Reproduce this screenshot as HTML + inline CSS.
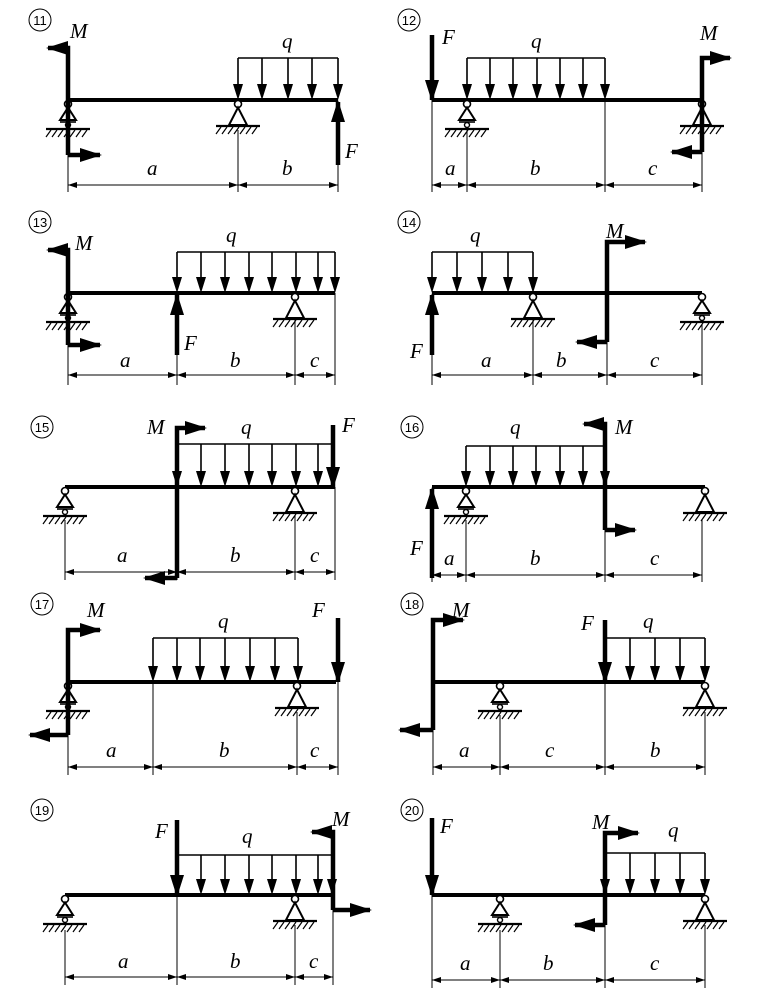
<!DOCTYPE html>
<html><head><meta charset="utf-8"><style>
html,body{margin:0;padding:0;background:#fff}
svg{display:block}
text{font-family:"Liberation Serif",serif;font-style:italic;font-size:21px;fill:#000}
.n{font-family:"Liberation Sans",sans-serif;font-style:normal;font-size:13px;text-anchor:middle}
.bm{stroke:#000;stroke-width:4;fill:none}
.th{stroke:#000;stroke-width:4.5;fill:none}
.q{stroke:#000;stroke-width:1.6;fill:none}
.d{stroke:#000;stroke-width:1;fill:none}
</style></head><body>
<svg width="760" height="999" viewBox="0 0 760 999" xmlns="http://www.w3.org/2000/svg">
<defs>
<path id="qh" d="M-5,-16L5,-16L0,0z"/>
<marker id="ta" markerUnits="userSpaceOnUse" viewBox="0 0 22 14" refX="20" refY="7" markerWidth="22" markerHeight="14" orient="auto"><path d="M0,0L22,7L0,14z"/></marker>
<marker id="da" markerUnits="userSpaceOnUse" viewBox="0 0 9 6" refX="9" refY="3" markerWidth="9" markerHeight="6" orient="auto-start-reverse"><path d="M0,0L9,3L0,6z"/></marker>
<g id="pin" fill="none" stroke="#000">
<circle cx="0" cy="4" r="3.5" fill="#fff" stroke-width="1.6"/>
<path d="M0,7.5L-9,25H9Z" stroke-width="2"/>
<line x1="-22" y1="26" x2="22" y2="26" stroke-width="2.2"/>
<path d="M-17,27l-5,7M-11,27l-5,7M-5,27l-5,7M1,27l-5,7M7,27l-5,7M13,27l-5,7M19,27l-5,7" stroke-width="1.2"/>
</g>
<g id="rol" fill="none" stroke="#000">
<circle cx="0" cy="4" r="3.5" fill="#fff" stroke-width="1.6"/>
<path d="M0,7.5L-8,20H8Z" stroke-width="2"/>
<line x1="-8" y1="22" x2="8" y2="22" stroke-width="1.6"/>
<circle cx="0" cy="25" r="2.5" fill="#fff" stroke-width="1.4"/>
<line x1="-22" y1="29" x2="22" y2="29" stroke-width="2.2"/>
<path d="M-17,30l-5,7M-11,30l-5,7M-5,30l-5,7M1,30l-5,7M7,30l-5,7M13,30l-5,7M19,30l-5,7" stroke-width="1.2"/>
</g>
</defs>

<!-- ===== 11 ===== -->
<circle cx="40" cy="20" r="11" fill="none" stroke="#000"/><text class="n" x="40" y="25">11</text>
<line class="bm" x1="68" y1="100" x2="338" y2="100"/>
<use href="#rol" x="68" y="100"/><use href="#pin" x="238" y="100"/>
<path class="q" d="M238,58H338M238,58V90M262,58V90M288,58V90M312,58V90M338,58V90"/>
<use href="#qh" x="238" y="100"/><use href="#qh" x="262" y="100"/><use href="#qh" x="288" y="100"/><use href="#qh" x="312" y="100"/><use href="#qh" x="338" y="100"/>
<path class="th" d="M68,155V48H48" marker-end="url(#ta)"/><path class="th" d="M68,155H100" marker-end="url(#ta)"/>
<path class="th" d="M338,165V102" marker-end="url(#ta)"/>
<path class="d" d="M68,100V192M238,130V192M338,165V192"/>
<path class="d" marker-start="url(#da)" marker-end="url(#da)" d="M68,185H238"/><path class="d" marker-start="url(#da)" marker-end="url(#da)" d="M238,185H338"/>
<text x="70" y="38">M</text><text x="282" y="48">q</text><text x="345" y="158">F</text><text x="147" y="175">a</text><text x="282" y="175">b</text>

<!-- ===== 12 ===== -->
<circle cx="409" cy="20" r="11" fill="none" stroke="#000"/><text class="n" x="409" y="25">12</text>
<line class="bm" x1="432" y1="100" x2="702" y2="100"/>
<use href="#rol" x="467" y="100"/><use href="#pin" x="702" y="100"/>
<path class="q" d="M467,58H605M467,58V90M490,58V90M513,58V90M537,58V90M560,58V90M583,58V90M605,58V90"/>
<use href="#qh" x="467" y="100"/><use href="#qh" x="490" y="100"/><use href="#qh" x="513" y="100"/><use href="#qh" x="537" y="100"/><use href="#qh" x="560" y="100"/><use href="#qh" x="583" y="100"/><use href="#qh" x="605" y="100"/>
<path class="th" d="M432,35V100" marker-end="url(#ta)"/>
<path class="th" d="M702,152V58H730" marker-end="url(#ta)"/><path class="th" d="M702,152H672" marker-end="url(#ta)"/>
<path class="d" d="M432,100V192M467,130V192M605,100V192M702,152V192"/>
<path class="d" marker-start="url(#da)" marker-end="url(#da)" d="M432,185H467"/><path class="d" marker-start="url(#da)" marker-end="url(#da)" d="M467,185H605"/><path class="d" marker-start="url(#da)" marker-end="url(#da)" d="M605,185H702"/>
<text x="442" y="44">F</text><text x="531" y="48">q</text><text x="700" y="40">M</text><text x="445" y="175">a</text><text x="530" y="175">b</text><text x="648" y="175">c</text>

<!-- ===== 13 ===== -->
<circle cx="40" cy="222" r="11" fill="none" stroke="#000"/><text class="n" x="40" y="227">13</text>
<line class="bm" x1="68" y1="293" x2="335" y2="293"/>
<use href="#rol" x="68" y="293"/><use href="#pin" x="295" y="293"/>
<path class="q" d="M177,252H335M177,252V283M201,252V283M225,252V283M249,252V283M272,252V283M296,252V283M318,252V283M335,252V283"/>
<use href="#qh" x="177" y="293"/><use href="#qh" x="201" y="293"/><use href="#qh" x="225" y="293"/><use href="#qh" x="249" y="293"/><use href="#qh" x="272" y="293"/><use href="#qh" x="296" y="293"/><use href="#qh" x="318" y="293"/><use href="#qh" x="335" y="293"/>
<path class="th" d="M68,345V250H48" marker-end="url(#ta)"/><path class="th" d="M68,345H100" marker-end="url(#ta)"/>
<path class="th" d="M177,355V295" marker-end="url(#ta)"/>
<path class="d" d="M68,293V385M177,355V385M295,320V385M335,293V385"/>
<path class="d" marker-start="url(#da)" marker-end="url(#da)" d="M68,375H177"/><path class="d" marker-start="url(#da)" marker-end="url(#da)" d="M177,375H295"/><path class="d" marker-start="url(#da)" marker-end="url(#da)" d="M295,375H335"/>
<text x="75" y="250">M</text><text x="226" y="242">q</text><text x="184" y="350">F</text><text x="120" y="367">a</text><text x="230" y="367">b</text><text x="310" y="367">c</text>

<!-- ===== 14 ===== -->
<circle cx="409" cy="222" r="11" fill="none" stroke="#000"/><text class="n" x="409" y="227">14</text>
<line class="bm" x1="432" y1="293" x2="702" y2="293"/>
<use href="#pin" x="533" y="293"/><use href="#rol" x="702" y="293"/>
<path class="q" d="M432,252H533M432,252V283M457,252V283M482,252V283M508,252V283M533,252V283"/>
<use href="#qh" x="432" y="293"/><use href="#qh" x="457" y="293"/><use href="#qh" x="482" y="293"/><use href="#qh" x="508" y="293"/><use href="#qh" x="533" y="293"/>
<path class="th" d="M432,355V295" marker-end="url(#ta)"/>
<path class="th" d="M607,342V242H645" marker-end="url(#ta)"/><path class="th" d="M607,342H577" marker-end="url(#ta)"/>
<path class="d" d="M432,355V385M533,320V385M607,342V385M702,325V385"/>
<path class="d" marker-start="url(#da)" marker-end="url(#da)" d="M432,375H533"/><path class="d" marker-start="url(#da)" marker-end="url(#da)" d="M533,375H607"/><path class="d" marker-start="url(#da)" marker-end="url(#da)" d="M607,375H702"/>
<text x="606" y="238">M</text><text x="470" y="242">q</text><text x="410" y="358">F</text><text x="481" y="367">a</text><text x="556" y="367">b</text><text x="650" y="367">c</text>

<!-- ===== 15 ===== -->
<circle cx="42" cy="427" r="11" fill="none" stroke="#000"/><text class="n" x="42" y="432">15</text>
<line class="bm" x1="65" y1="487" x2="335" y2="487"/>
<use href="#rol" x="65" y="487"/><use href="#pin" x="295" y="487"/>
<path class="q" d="M177,444H332M177,444V477M201,444V477M225,444V477M249,444V477M272,444V477M296,444V477M318,444V477"/>
<use href="#qh" x="177" y="487"/><use href="#qh" x="201" y="487"/><use href="#qh" x="225" y="487"/><use href="#qh" x="249" y="487"/><use href="#qh" x="272" y="487"/><use href="#qh" x="296" y="487"/><use href="#qh" x="318" y="487"/>
<path class="th" d="M177,578V428H205" marker-end="url(#ta)"/><path class="th" d="M177,578H145" marker-end="url(#ta)"/>
<path class="th" d="M333,425V487" marker-end="url(#ta)"/>
<path class="d" d="M65,520V580M177,578V580M295,515V580M335,487V580"/>
<path class="d" marker-start="url(#da)" marker-end="url(#da)" d="M65,572H177"/><path class="d" marker-start="url(#da)" marker-end="url(#da)" d="M177,572H295"/><path class="d" marker-start="url(#da)" marker-end="url(#da)" d="M295,572H335"/>
<text x="147" y="434">M</text><text x="241" y="434">q</text><text x="342" y="432">F</text><text x="117" y="562">a</text><text x="230" y="562">b</text><text x="310" y="562">c</text>

<!-- ===== 16 ===== -->
<circle cx="412" cy="427" r="11" fill="none" stroke="#000"/><text class="n" x="412" y="432">16</text>
<line class="bm" x1="432" y1="487" x2="705" y2="487"/>
<use href="#rol" x="466" y="487"/><use href="#pin" x="705" y="487"/>
<path class="q" d="M466,446H605M466,446V477M490,446V477M513,446V477M536,446V477M560,446V477M583,446V477"/>
<use href="#qh" x="466" y="487"/><use href="#qh" x="490" y="487"/><use href="#qh" x="513" y="487"/><use href="#qh" x="536" y="487"/><use href="#qh" x="560" y="487"/><use href="#qh" x="583" y="487"/><use href="#qh" x="605" y="487"/>
<path class="th" d="M605,530V424H584" marker-end="url(#ta)"/><path class="th" d="M605,530H635" marker-end="url(#ta)"/>
<path class="th" d="M432,578V489" marker-end="url(#ta)"/>
<path class="d" d="M432,578V582M466,520V582M605,530V582M702,520V582"/>
<path class="d" marker-start="url(#da)" marker-end="url(#da)" d="M432,575H466"/><path class="d" marker-start="url(#da)" marker-end="url(#da)" d="M466,575H605"/><path class="d" marker-start="url(#da)" marker-end="url(#da)" d="M605,575H702"/>
<text x="615" y="434">M</text><text x="510" y="434">q</text><text x="410" y="555">F</text><text x="444" y="565">a</text><text x="530" y="565">b</text><text x="650" y="565">c</text>

<!-- ===== 17 ===== -->
<circle cx="42" cy="604" r="11" fill="none" stroke="#000"/><text class="n" x="42" y="609">17</text>
<line class="bm" x1="68" y1="682" x2="336" y2="682"/>
<use href="#rol" x="68" y="682"/><use href="#pin" x="297" y="682"/>
<path class="q" d="M153,638H298M153,638V672M177,638V672M200,638V672M225,638V672M250,638V672M275,638V672M298,638V672"/>
<use href="#qh" x="153" y="682"/><use href="#qh" x="177" y="682"/><use href="#qh" x="200" y="682"/><use href="#qh" x="225" y="682"/><use href="#qh" x="250" y="682"/><use href="#qh" x="275" y="682"/><use href="#qh" x="298" y="682"/>
<path class="th" d="M68,735V630H100" marker-end="url(#ta)"/><path class="th" d="M68,735H30" marker-end="url(#ta)"/>
<path class="th" d="M338,618V682" marker-end="url(#ta)"/>
<path class="d" d="M68,735V775M153,682V775M297,712V775M338,682V775"/>
<path class="d" marker-start="url(#da)" marker-end="url(#da)" d="M68,767H153"/><path class="d" marker-start="url(#da)" marker-end="url(#da)" d="M153,767H297"/><path class="d" marker-start="url(#da)" marker-end="url(#da)" d="M297,767H338"/>
<text x="87" y="617">M</text><text x="218" y="628">q</text><text x="312" y="617">F</text><text x="106" y="757">a</text><text x="219" y="757">b</text><text x="310" y="757">c</text>

<!-- ===== 18 ===== -->
<circle cx="412" cy="604" r="11" fill="none" stroke="#000"/><text class="n" x="412" y="609">18</text>
<line class="bm" x1="433" y1="682" x2="705" y2="682"/>
<use href="#rol" x="500" y="682"/><use href="#pin" x="705" y="682"/>
<path class="q" d="M605,638H705M630,638V672M655,638V672M680,638V672M705,638V672"/>
<use href="#qh" x="630" y="682"/><use href="#qh" x="655" y="682"/><use href="#qh" x="680" y="682"/><use href="#qh" x="705" y="682"/>
<path class="th" d="M433,730V620H463" marker-end="url(#ta)"/><path class="th" d="M433,730H400" marker-end="url(#ta)"/>
<path class="th" d="M605,620V682" marker-end="url(#ta)"/>
<path class="d" d="M433,730V775M500,715V775M605,682V775M705,712V775"/>
<path class="d" marker-start="url(#da)" marker-end="url(#da)" d="M433,767H500"/><path class="d" marker-start="url(#da)" marker-end="url(#da)" d="M500,767H605"/><path class="d" marker-start="url(#da)" marker-end="url(#da)" d="M605,767H705"/>
<text x="452" y="617">M</text><text x="643" y="628">q</text><text x="581" y="630">F</text><text x="459" y="757">a</text><text x="545" y="757">c</text><text x="650" y="757">b</text>

<!-- ===== 19 ===== -->
<circle cx="42" cy="810" r="11" fill="none" stroke="#000"/><text class="n" x="42" y="815">19</text>
<line class="bm" x1="65" y1="895" x2="333" y2="895"/>
<use href="#rol" x="65" y="895"/><use href="#pin" x="295" y="895"/>
<path class="q" d="M177,855H332M201,855V885M225,855V885M249,855V885M272,855V885M296,855V885M318,855V885"/>
<use href="#qh" x="201" y="895"/><use href="#qh" x="225" y="895"/><use href="#qh" x="249" y="895"/><use href="#qh" x="272" y="895"/><use href="#qh" x="296" y="895"/><use href="#qh" x="318" y="895"/><use href="#qh" x="332" y="895"/>
<path class="th" d="M177,820V895" marker-end="url(#ta)"/>
<path class="th" d="M333,910V832H312" marker-end="url(#ta)"/><path class="th" d="M333,910H370" marker-end="url(#ta)"/>
<path class="d" d="M65,930V985M177,895V985M295,925V985M333,910V985"/>
<path class="d" marker-start="url(#da)" marker-end="url(#da)" d="M65,977H177"/><path class="d" marker-start="url(#da)" marker-end="url(#da)" d="M177,977H295"/><path class="d" marker-start="url(#da)" marker-end="url(#da)" d="M295,977H333"/>
<text x="155" y="838">F</text><text x="242" y="843">q</text><text x="332" y="826">M</text><text x="118" y="968">a</text><text x="230" y="968">b</text><text x="309" y="968">c</text>

<!-- ===== 20 ===== -->
<circle cx="412" cy="810" r="11" fill="none" stroke="#000"/><text class="n" x="412" y="815">20</text>
<line class="bm" x1="432" y1="895" x2="705" y2="895"/>
<use href="#rol" x="500" y="895"/><use href="#pin" x="705" y="895"/>
<path class="q" d="M605,853H705M630,853V885M655,853V885M680,853V885M705,853V885"/>
<use href="#qh" x="605" y="895"/><use href="#qh" x="630" y="895"/><use href="#qh" x="655" y="895"/><use href="#qh" x="680" y="895"/><use href="#qh" x="705" y="895"/>
<path class="th" d="M432,818V895" marker-end="url(#ta)"/>
<path class="th" d="M605,925V833H638" marker-end="url(#ta)"/><path class="th" d="M605,925H575" marker-end="url(#ta)"/>
<path class="d" d="M432,895V988M500,930V988M605,925V988M705,925V988"/>
<path class="d" marker-start="url(#da)" marker-end="url(#da)" d="M432,980H500"/><path class="d" marker-start="url(#da)" marker-end="url(#da)" d="M500,980H605"/><path class="d" marker-start="url(#da)" marker-end="url(#da)" d="M605,980H705"/>
<text x="440" y="833">F</text><text x="668" y="837">q</text><text x="592" y="829">M</text><text x="460" y="970">a</text><text x="543" y="970">b</text><text x="650" y="970">c</text>
</svg>
</body></html>
